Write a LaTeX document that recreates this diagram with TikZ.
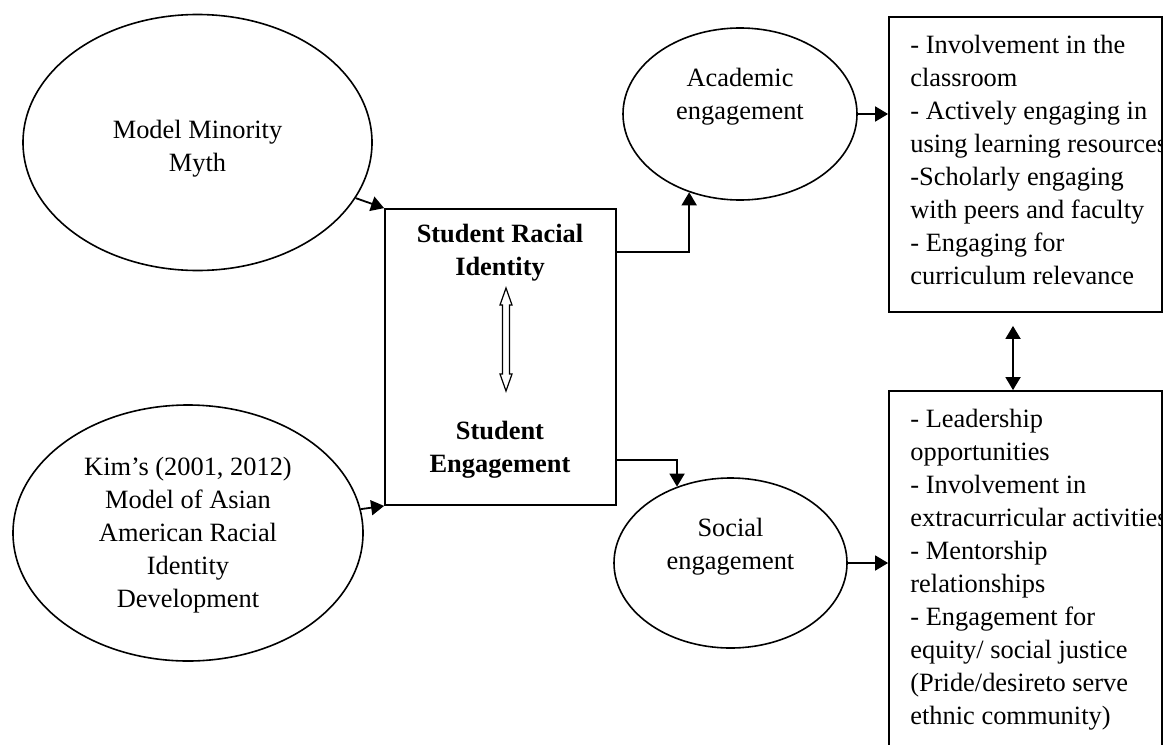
\documentclass[tikz,border=0pt]{standalone}
\usepackage{fontspec}
\setmainfont{Liberation Serif}
\usetikzlibrary{arrows.meta,shapes.geometric}
\begin{document}
\begin{tikzpicture}[x=0.5pt,y=-0.5pt,
  every node/.style={font=\fontsize{13.2}{16.5}\selectfont, inner sep=0pt},
  ell/.style={draw, line width=0.8pt, ellipse},
  boxst/.style={draw, line width=0.9pt, rectangle},
  ctext/.style={align=center},
  ltext/.style={align=left, anchor=north west},
  arr/.style={line width=0.9pt, -{Triangle[length=6.5pt,width=7.5pt]}},
  darr/.style={line width=0.9pt, {Triangle[length=6.5pt,width=7.5pt]}-{Triangle[length=6.5pt,width=7.5pt]}},
  hollow/.style={draw, line width=0.6pt, fill=white}]
\useasboundingbox (0,0) rectangle (1165,744);
\clip (0,0) rectangle (1165,744);
% ellipses
\node[ell, minimum width=174.5pt, minimum height=128pt] (mmm) at (197.5,142.5) {};
\node[ctext] (mmmt) at (197.5,148.5) {Model Minority\\Myth};
\node[ell, minimum width=175pt, minimum height=128pt] (kim) at (188,533) {};
\node[ctext] (kimt) at (188,535) {Kim’s (2001, 2012)\\Model of Asian\\American Racial\\Identity\\Development};
\node[ell, minimum width=117pt, minimum height=86pt] (acad) at (740,114) {};
\node[ctext] (acadt) at (740,97) {Academic\\engagement};
\node[ell, minimum width=116.5pt, minimum height=85pt] (soc) at (730.5,563) {};
\node[ctext] (soct) at (730.5,547) {Social\\engagement};
% central box
\node[boxst, minimum width=115.5pt, minimum height=148pt] (box) at (500.5,357) {};
\node[ctext, font=\fontsize{13.2}{16.5}\selectfont\bfseries] (sri) at (500,253) {Student Racial\\Identity};
\node[ctext, font=\fontsize{13.2}{16.5}\selectfont\bfseries] (se) at (500,450) {Student\\Engagement};
\coordinate (h1) at (506,288);
\coordinate (h2) at (506,391);
\draw[hollow] (h1) -- ++(6,17) -- ++(-2.5,0) -- ++(0,69) -- ++(2.5,0) -- (h2) -- ++(-6,-17) -- ++(2.5,0) -- ++(0,-69) -- ++(-2.5,0) -- cycle;
% right boxes
\node[boxst, minimum width=136.5pt, minimum height=147.5pt] (tbox) at (1025.5,164.5) {};
\node[boxst, minimum width=136.5pt, minimum height=189.5pt] (bbox) at (1025.5,580.5) {};
\begin{scope}
\clip (tbox.north west) rectangle (tbox.south east);
\node[ltext] (tboxt) at (910,34.5) {- Involvement in the\\classroom\\- Actively engaging in\\using learning resources\\-Scholarly engaging\\with peers and faculty\\- Engaging for\\curriculum relevance};
\end{scope}
\begin{scope}
\clip (bbox.north west) rectangle (bbox.south east);
\node[ltext] (bboxt) at (910,409) {- Leadership\\opportunities\\- Involvement in\\extracurricular activities\\- Mentorship\\relationships\\- Engagement for\\equity/ social justice\\(Pride/desireto serve\\ethnic community)};
\end{scope}
% connectors
\draw[arr] (mmm) -- (box.north west);
\draw[arr] (kim) -- (box.south west);
\draw[arr] ([yshift=-22pt]box.north east) -| (acad.237);
\draw[arr] ([yshift=23pt]box.south east) -| (soc.125);
\draw[arr] (acad.east) -- (acad.east -| tbox.west);
\draw[arr] (soc.east) -- (soc.east -| bbox.west);
\draw[darr] ([xshift=-6.25pt,yshift=-6.5pt]tbox.south) -- ([xshift=-6.25pt,yshift=0pt]bbox.north);
\end{tikzpicture}
\end{document}
